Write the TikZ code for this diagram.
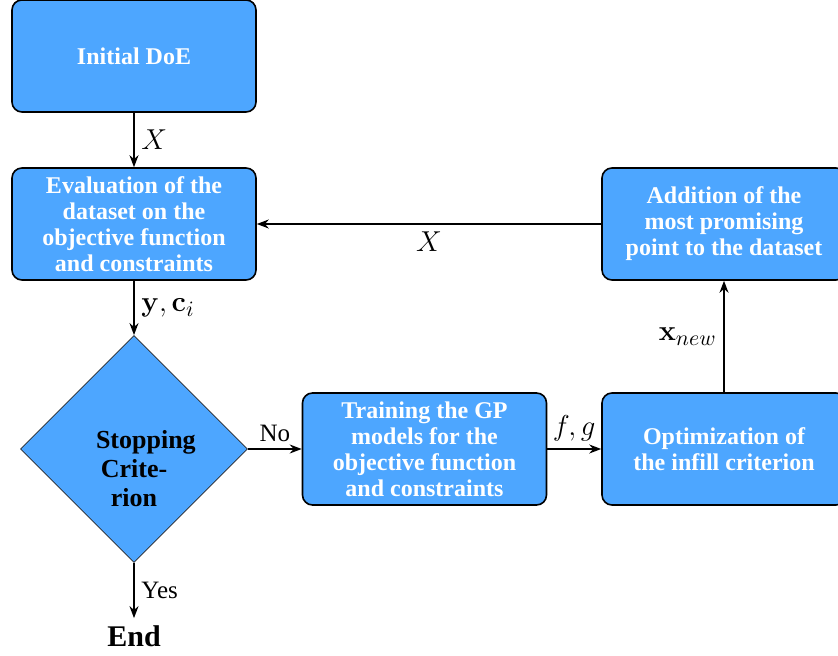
\documentclass[tikz,border=0pt]{standalone}
\usepackage[no-math]{fontspec}
\setmainfont{Liberation Serif}
\usetikzlibrary{shapes.geometric,arrows.meta}
\definecolor{boxblue}{RGB}{77,166,255}

\begin{document}
\begin{tikzpicture}[x=1pt,y=1pt,
		block/.style={draw=black, thick, rounded corners=5pt, fill=boxblue, text=white,
			font=\fontsize{12}{13}\selectfont\bfseries, align=center,
			minimum width=122pt, minimum height=56pt, inner sep=2pt},
		decision/.style={diamond, draw=black!85, fill=boxblue, text width=38pt, align=center,
			font=\fontsize{13}{14.5}\selectfont\bfseries, minimum size=113.5pt,
			inner sep=0pt, text height=29pt},
		flow/.style={-{Stealth[length=6pt,width=4.5pt]}, thick},
		lbl/.style={font=\fontsize{15}{18}\selectfont},
		ans/.style={font=\fontsize{12.5}{14}\selectfont}]
		\useasboundingbox (0,0) rectangle (419,-328);
		\node[block] (init) at (67,-28) {Initial DoE};
		\node[block] (eval) at (67,-112) {Evaluation of the\\dataset on the\\objective function\\and constraints};
		\node[decision] (stop) at (67,-224.5) {Stopping Crite\-rion};
		\node[font=\fontsize{15}{18}\selectfont\bfseries, anchor=base] (end) at (67,-323) {End};
		\node[block] (train) at (212.25,-224.5) {Training the GP\\models for the\\objective function\\and constraints};
		\node[block] (opt) at (362,-224.5) {Optimization of\\the infill criterion};
		\node[block] (add) at (362,-112) {Addition of the\\most promising\\point to the dataset};
		\draw[flow] (init) -- node[right, lbl] {$X$} (eval);
		\draw[flow] (eval) -- node[right, lbl] {$\mathbf{y}, \mathbf{c}_i$} (stop);
		\draw[flow] (stop) -- node[above, ans] {No} (train);
		\draw[flow] (train) -- node[above, lbl] {$f, g$} (opt);
		\draw[flow] (opt) -- node[left, lbl] {$\mathbf{x}_{new}$} (add);
		\draw[flow] (add) -- node[below, lbl] {$X$} (eval);
		\draw[flow] (stop) -- node[right, ans] {Yes} (end);
	\end{tikzpicture}
\end{document}
